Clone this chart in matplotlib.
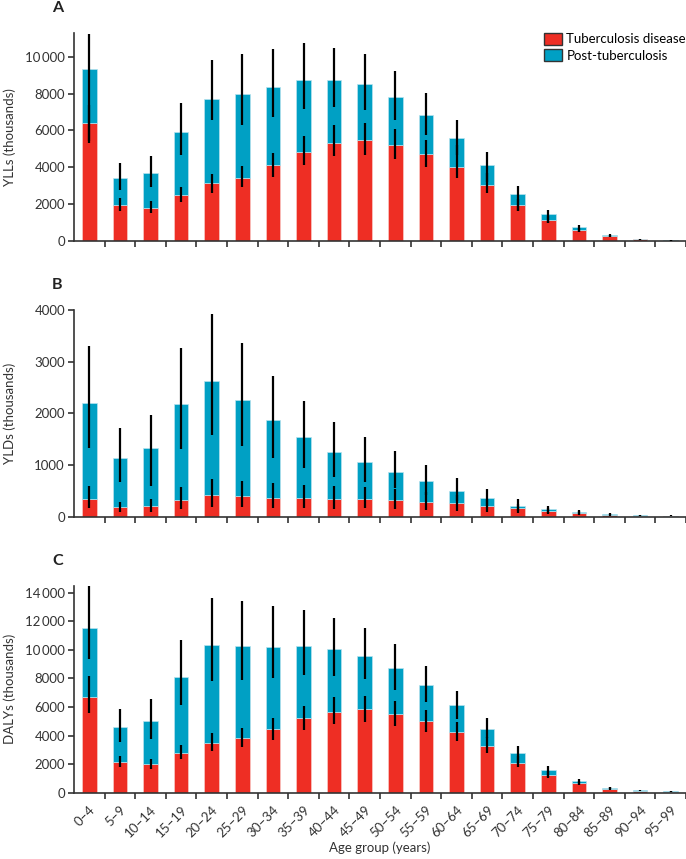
import matplotlib
matplotlib.use("Agg")
import matplotlib.pyplot as plt
from matplotlib.patches import Patch
from matplotlib.ticker import FuncFormatter

plt.rcParams['font.family'] = ['Lato', 'DejaVu Sans']

# Grupos de edad
ages = ["0–4", "5–9", "10–14", "15–19", "20–24", "25–29", "30–34", "35–39",
        "40–44", "45–49", "50–54", "55–59", "60–64", "65–69", "70–74",
        "75–79", "80–84", "85–89", "90–94", "95–99"]

# Panel A: YLLs (miles)
yll_tb = [6390, 1950, 1800, 2480, 3120, 3420, 4100, 4850, 5340, 5500,
          5210, 4700, 3990, 3040, 1930, 1150, 600, 255, 73, 8]
yll_total = [9360, 3410, 3660, 5920, 7720, 7980, 8340, 8740, 8740, 8530,
             7800, 6850, 5610, 4140, 2530, 1460, 730, 290, 91, 12]
yll_tb_lo = [5400, 1620, 1530, 2100, 2620, 2910, 3460, 4120, 4590, 4680,
             4440, 4010, 3410, 2590, 1640, 970, 490, 200, 55, 5]
yll_tb_hi = [7400, 2350, 2150, 2910, 3640, 4040, 4790, 5680, 6270, 6410,
             6050, 5460, 5190, 3680, 2250, 1330, 700, 300, 90, 11]
yll_tot_lo = [5320, 2770, 2910, 4650, 6560, 6280, 6720, 7160, 7270, 7100,
              6540, 5770, 4680, 3170, 1640, 965, 490, 200, 60, 6]
yll_tot_hi = [11270, 4230, 4590, 7500, 9840, 10150, 10450, 10730, 10490, 10180,
              9250, 8030, 6540, 4830, 2950, 1660, 840, 350, 115, 15]

# Panel B: YLDs (miles)
yld_tb = [342, 187, 206, 329, 419, 400, 368, 361, 342, 335,
          323, 290, 258, 213, 161, 110, 71, 39, 19, 15]
yld_total = [2206, 1142, 1323, 2174, 2619, 2265, 1865, 1542, 1252, 1058,
             871, 684, 503, 355, 213, 142, 90, 52, 26, 20]
yld_tb_lo = [174, 97, 97, 142, 194, 181, 168, 161, 155, 161,
             148, 135, 116, 90, 71, 52, 32, 20, 8, 6]
yld_tb_hi = [600, 290, 335, 574, 735, 690, 652, 613, 594, 581,
             540, 480, 420, 340, 250, 170, 110, 60, 30, 22]
yld_tot_lo = [1323, 677, 600, 1310, 1581, 1374, 1129, 935, 774, 677,
              560, 420, 300, 200, 110, 70, 45, 25, 12, 10]
yld_tot_hi = [3297, 1716, 1974, 3265, 3923, 3361, 2729, 2239, 1839, 1535,
              1271, 994, 742, 529, 335, 213, 129, 75, 35, 26]

# Panel C: DALYs (miles)
daly_tb = [6720, 2170, 2030, 2800, 3500, 3830, 4460, 5200, 5670, 5830,
           5530, 4990, 4270, 3240, 2100, 1240, 677, 280, 117, 70]
daly_total = [11550, 4570, 5020, 8100, 10340, 10270, 10200, 10270, 10030, 9590,
              8700, 7510, 6110, 4480, 2780, 1590, 817, 327, 163, 93]
daly_tb_lo = [5600, 1770, 1660, 2360, 2920, 3220, 3690, 4390, 4830, 4920,
              4690, 4220, 3620, 2750, 1770, 1050, 537, 210, 90, 50]
daly_tb_hi = [8170, 2570, 2360, 3340, 4150, 4550, 5230, 6090, 6670, 6790,
              6420, 5790, 4920, 3920, 2600, 1500, 800, 380, 150, 85]
daly_tot_lo = [9330, 3520, 3780, 6110, 7790, 7890, 8050, 8260, 8140, 7930,
               7210, 6320, 5180, 3800, 1990, 1100, 620, 250, 120, 70]
daly_tot_hi = [14466, 5860, 6530, 10660, 13650, 13420, 13040, 12810, 12250, 11550,
               10410, 8870, 7120, 5250, 3270, 1870, 980, 420, 200, 110]

red = "#ee2e24"
blue = "#00a0c4"
dark = "#333333"

fig = plt.figure(figsize=(6.86, 8.59), dpi=100)

W, H = 686.0, 859.0
paneles = [
    ("A", "YLLs (thousands)", yll_tb, yll_total, yll_tb_lo, yll_tb_hi, yll_tot_lo, yll_tot_hi,
     11300, [0, 2000, 4000, 6000, 8000, 10000], 33, 240.7),
    ("B", "YLDs (thousands)", yld_tb, yld_total, yld_tb_lo, yld_tb_hi, yld_tot_lo, yld_tot_hi,
     4000, [0, 1000, 2000, 3000, 4000], 310, 516.7),
    ("C", "DALYs (thousands)", daly_tb, daly_total, daly_tb_lo, daly_tb_hi, daly_tot_lo, daly_tot_hi,
     14466, [0, 2000, 4000, 6000, 8000, 10000, 12000, 14000], 586, 792.7),
]

def fmt(v, pos):
    v = int(round(v))
    if v >= 10000:
        return f"{v // 1000}\u2009{v % 1000:03d}"
    return str(v)

x = list(range(len(ages)))
axes = []
for letra, ylab, tb, tot, tlo, thi, olo, ohi, ytop, yt, ptop, pbot in paneles:
    ax = fig.add_axes([74 / W, 1 - pbot / H, 612 / W, (pbot - ptop) / H])
    post = [t - r for t, r in zip(tot, tb)]
    ax.bar(x, tb, width=0.48, color=red, edgecolor="#f9c9c5", linewidth=0.5, zorder=2)
    ax.bar(x, post, width=0.48, bottom=tb, color=blue, edgecolor="#b8e3ee", linewidth=0.5, zorder=2)
    ax.vlines(x, olo, ohi, color="black", linewidth=1.6, zorder=3)
    ax.vlines(x, tlo, thi, color="black", linewidth=1.6, zorder=3)
    ax.set_xlim(-0.5, 19.5)
    ax.set_ylim(0, ytop)
    ax.set_yticks(yt)
    ax.yaxis.set_major_formatter(FuncFormatter(fmt))
    ax.set_xticks([i - 0.5 for i in range(1, 21)])
    ax.set_xticklabels([])
    for s in ["top", "right"]:
        ax.spines[s].set_visible(False)
    for s in ["left", "bottom"]:
        ax.spines[s].set_color(dark)
        ax.spines[s].set_linewidth(1.2)
    ax.spines["bottom"].set_clip_on(False)
    ax.tick_params(axis="both", direction="out", length=4.5, width=1.2, color=dark,
                   labelsize=9.5, labelcolor="#333333", pad=2)
    ax.set_ylabel(ylab, fontsize=9.5, color="#333333", labelpad=4)
    ax.yaxis.set_label_coords(-0.095, 0.5)
    fig.text(52 / W, 1 - (ptop - 25) / H, letra, fontsize=11.5, fontweight="bold",
             color="#222222", va="center", ha="left")
    axes.append(ax)

# Etiquetas del eje x solo en el panel C
axc = axes[2]
axc.set_xticks(x, minor=True)
axc.set_xticklabels(ages, minor=True, rotation=45, ha="right", rotation_mode="anchor",
                    fontsize=9.5, color="#333333")
axc.tick_params(axis="x", which="minor", length=0, pad=8)
axc.set_xlabel("Age group (years)", fontsize=9.5, color="#333333", labelpad=1)

handles = [Patch(facecolor=red, edgecolor=dark, linewidth=1.0, label="Tuberculosis disease"),
           Patch(facecolor=blue, edgecolor=dark, linewidth=1.0, label="Post-tuberculosis")]
axes[0].legend(handles=handles, loc="upper right", bbox_to_anchor=(1.0, 1.0), frameon=False,
               fontsize=9.5, handlelength=1.4, handleheight=1.0, handletextpad=0.3,
               labelspacing=0.3, borderaxespad=0, borderpad=0)

fig.savefig("out.png", dpi=100)
